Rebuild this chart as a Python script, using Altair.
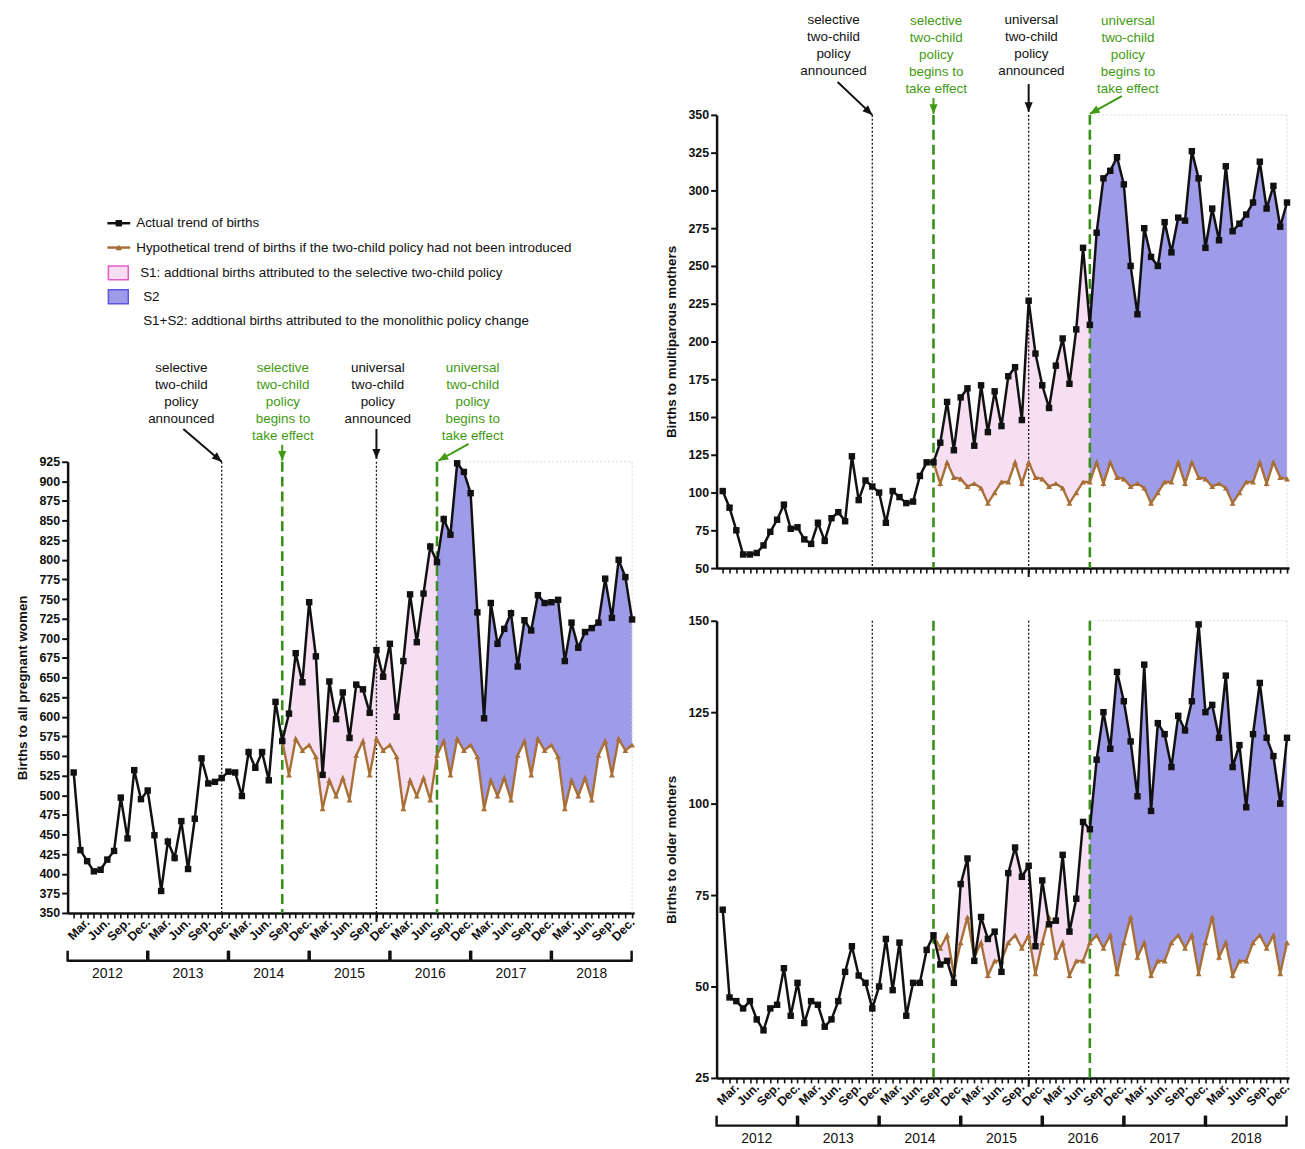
import json
import math
import altair as alt
import pandas as pd

FONT = "Liberation Sans"
BLACK = "#111111"
BROWN = "#a86f36"
GREEN = "#3a8e1a"
GREEN_TXT = "#3f9a12"
PINK_FILL = "#f6dff2"
PINK_STROKE = "#e25cc6"
BLUE_FILL = "#9e9be8"
BLUE_STROKE = "#5c57e0"
FAINT = "#d6d6ee"

# ---------------- data ----------------
months = list(range(84))  # Jan 2012 .. Dec 2018
month_labels = ["", "", "Mar.", "", "", "Jun.", "", "", "Sep.", "", "", "Dec."]
years = ["2012", "2013", "2014", "2015", "2016", "2017", "2018"]
announced_idx = [22, 45]
effect_idx = [31, 54]
hyp_start = 31

all_actual = [529, 430, 416, 403, 405, 418, 429, 497, 445, 532, 495, 506,
              449, 378, 441, 420, 467, 406, 470, 547, 515, 517, 522, 530,
              529, 499, 555, 535, 555, 519, 619, 569, 604, 681, 644, 746,
              677, 526, 645, 597, 631, 573, 641, 635, 605, 685, 651, 693,
              600, 671, 756, 695, 757, 817, 797, 852, 832, 923, 912, 885,
              733, 598, 745, 693, 712, 732, 664, 723, 710, 755, 745, 746,
              749, 671, 720, 688, 708, 713, 720, 776, 726, 800, 778, 724]
all_hyp = [569, 526, 572, 557, 564,
           549, 483, 519, 499, 522, 494, 551, 569, 526, 572, 557, 564,
           549, 483, 519, 499, 522, 494, 551, 569, 526, 572, 557, 564,
           549, 483, 519, 499, 522, 494, 551, 569, 526, 572, 557, 564,
           549, 483, 519, 499, 522, 494, 551, 569, 526, 572, 557, 564]

multi_actual = [101, 90, 75, 59, 59, 60, 65, 74, 82, 92, 76, 77,
                69, 66, 80, 68, 83, 87, 81, 124, 95, 108, 104, 100,
                80, 101, 97, 93, 94, 111, 120, 120, 133, 160, 128, 163,
                169, 131, 171, 140, 167, 144, 177, 183, 148, 227, 192, 171,
                156, 184, 202, 172, 208, 262, 211, 272, 308, 313, 322, 304,
                250, 218, 275, 256, 250, 279, 259, 282, 280, 326, 308, 262,
                288, 267, 316, 273, 278, 284, 292, 319, 288, 303, 276, 292]
multi_hyp = [120, 106, 120, 110, 109,
             104, 106, 103, 93, 100, 107, 107, 120, 106, 120, 110, 109,
             104, 106, 103, 93, 100, 107, 107, 120, 106, 120, 110, 109,
             104, 106, 103, 93, 100, 107, 107, 120, 106, 120, 110, 109,
             104, 106, 103, 93, 100, 107, 107, 120, 106, 120, 110, 109]

older_actual = [71, 47, 46, 44, 46, 41, 38, 44, 45, 55, 42, 51,
                40, 46, 45, 39, 41, 46, 54, 61, 53, 51, 44, 50,
                63, 49, 62, 42, 51, 51, 60, 64, 56, 57, 51, 78,
                85, 57, 69, 63, 65, 54, 81, 88, 80, 83, 61, 79,
                67, 68, 86, 65, 74, 95, 93, 112, 125, 115, 136, 128,
                117, 102, 138, 98, 122, 119, 110, 124, 120, 128, 149, 125,
                127, 118, 135, 110, 116, 99, 119, 133, 118, 113, 100, 118]
older_hyp = [64, 60.5, 64, 53.5, 62,
             69, 58, 62, 53, 57, 57, 62, 64, 60.5, 64, 53.5, 62,
             69, 58, 62, 53, 57, 57, 62, 64, 60.5, 64, 53.5, 62,
             69, 58, 62, 53, 57, 57, 62, 64, 60.5, 64, 53.5, 62,
             69, 58, 62, 53, 57, 57, 62, 64, 60.5, 64, 53.5, 62]

legend_labels = ["Actual trend of births",
                 "Hypothetical trend of births if the two-child policy had not been introduced",
                 "S1: addtional births attributed to the selective two-child policy",
                 "S2",
                 "S1+S2: addtional births attributed to the monolithic policy change"]

ann_texts = ["selective\ntwo-child\npolicy\nannounced",
             "selective\ntwo-child\npolicy\nbegins to\ntake effect",
             "universal\ntwo-child\npolicy\nannounced",
             "universal\ntwo-child\npolicy\nbegins to\ntake effect"]
ann_colors = [BLACK, GREEN_TXT, BLACK, GREEN_TXT]

XDOM = [-0.9, 83.3]
XSCALE = alt.Scale(domain=XDOM, nice=False, zero=False)


def xq(field, show_labels=True):
    lab = f"{json.dumps(month_labels)}[datum.value % 12]" if show_labels else "''"
    axis = alt.Axis(values=months, labelExpr=lab, labels=show_labels, labelAngle=315,
                    labelAlign="right", labelBaseline="middle", labelPadding=2,
                    labelFontSize=12.5, labelFontWeight="bold", labelOverlap=False,
                    labelFlush=False, labelBound=False, tickSize=5, tickWidth=1.6,
                    domainWidth=2.5, grid=False, title=None)
    return alt.X(f"{field}:Q", scale=XSCALE, axis=axis)


def yq(field, ydom, title):
    axis = alt.Axis(values=list(range(ydom[0], ydom[1] + 1, 25)), title=title,
                    titleFontSize=13.5, titleFontWeight="bold", titlePadding=10,
                    labelFontSize=12.5, labelFontWeight="bold", labelPadding=2,
                    tickSize=6, tickWidth=2, domainWidth=2.5, grid=False, labelFlush=False)
    return alt.Y(f"{field}:Q", scale=alt.Scale(domain=ydom, nice=False, zero=False), axis=axis)


def panel(actual, hyp, ydom, title, width, height, show_labels):
    df = pd.DataFrame({"m": months, "actual": actual})
    hdf = pd.DataFrame({"m": months[hyp_start:], "hyp": hyp, "actual": actual[hyp_start:]})
    s1 = hdf[(hdf.m >= effect_idx[0]) & (hdf.m <= effect_idx[1])]
    s2 = hdf[hdf.m >= effect_idx[1]]
    X = lambda f: xq(f, show_labels)

    layers = []
    layers.append(alt.Chart(s1).mark_area(color=PINK_FILL, opacity=1).encode(
        x=X("m"), y=yq("actual", ydom, title), y2="hyp:Q"))
    layers.append(alt.Chart(s2).mark_area(color=BLUE_FILL, opacity=1).encode(
        x=X("m"), y=yq("actual", ydom, title), y2="hyp:Q"))
    fr = pd.DataFrame({"a": [effect_idx[1]], "b": [months[-1]]})
    layers.append(alt.Chart(fr).mark_rule(color=FAINT, strokeDash=[2, 2], strokeWidth=1).encode(
        x=X("a"), x2="b:Q", y=alt.value(0)))
    layers.append(alt.Chart(fr).mark_rule(color=FAINT, strokeDash=[2, 2], strokeWidth=1).encode(
        x=X("b"), y=alt.value(0), y2=alt.value(height)))
    ann = pd.DataFrame({"m": announced_idx})
    layers.append(alt.Chart(ann).mark_rule(color=BLACK, strokeDash=[2, 2], strokeWidth=1.3).encode(
        x=X("m"), y=alt.value(0), y2=alt.value(height)))
    layers.append(alt.Chart(ann.iloc[[1]]).mark_rule(color=BLACK, strokeWidth=2).encode(
        x=X("m"), y=alt.value(height), y2=alt.value(height + 9)))
    eff = pd.DataFrame({"m": effect_idx})
    layers.append(alt.Chart(eff).mark_rule(color=GREEN, strokeDash=[10, 5], strokeWidth=2.6).encode(
        x=X("m"), y=alt.value(0), y2=alt.value(height)))
    layers.append(alt.Chart(hdf).mark_line(
        color=BROWN, strokeWidth=2.4,
        point=alt.OverlayMarkDef(shape="triangle-up", filled=True, size=36, color=BROWN)).encode(
        x=X("m"), y=yq("hyp", ydom, title)))
    layers.append(alt.Chart(df).mark_line(
        color=BLACK, strokeWidth=2.5,
        point=alt.OverlayMarkDef(shape="square", filled=True, size=42, color=BLACK)).encode(
        x=X("m"), y=yq("actual", ydom, title)))

    if show_labels:
        starts = [XDOM[0] if k == 0 else 12 * k - 0.92 for k in range(len(years))]
        ends = [12 * k + 10.93 for k in range(len(years))]
        ydf = pd.DataFrame({"year": years, "s": starts, "e": ends,
                            "mid": [(a + b) / 2 for a, b in zip(starts, ends)]})
        cdf = pd.DataFrame({"c": starts + ends})
        layers.append(alt.Chart(ydf).mark_rule(color=BLACK, strokeWidth=2.5).encode(
            x=X("s"), x2="e:Q", y=alt.value(height + 48)))
        layers.append(alt.Chart(cdf).mark_rule(color=BLACK, strokeWidth=2.5).encode(
            x=X("c"), y=alt.value(height + 38), y2=alt.value(height + 49)))
        layers.append(alt.Chart(ydf).mark_text(fontSize=14, font=FONT, color=BLACK, baseline="middle").encode(
            x=X("mid"), y=alt.value(height + 61), text="year:N"))

    return alt.layer(*layers).properties(width=width, height=height)


ARROW = "M0,0L-0.42,-1L0.42,-1Z"


def annot(width, height, items, legend=None):
    ppm = width / (XDOM[1] - XDOM[0])
    ys = alt.Scale(domain=[0, height], reverse=True, nice=False, zero=False)
    xs = XSCALE
    rows = []
    for (label, col, cx, cy, tx, ty, hx, hy) in items:
        ang = math.degrees(math.atan2(-(hx - tx) * ppm, (hy - ty))) % 360
        rows.append({"label": label, "col": col, "cx": cx, "cy": cy,
                     "tx": tx, "ty": ty, "hx": hx, "hy": hy, "ang": ang})
    tdf = pd.DataFrame(rows)
    X = lambda f: alt.X(f"{f}:Q", scale=xs, axis=None)
    Y = lambda f: alt.Y(f"{f}:Q", scale=ys, axis=None)
    layers = [
        alt.Chart(tdf).mark_text(lineBreak="\n", align="center", baseline="top", fontSize=13.5,
                                 lineHeight=17, font=FONT).encode(
            x=X("cx"), y=Y("cy"), text="label:N", color=alt.Color("col:N", scale=None)),
        alt.Chart(tdf).mark_rule(strokeWidth=2).encode(
            x=X("tx"), x2="hx:Q", y=Y("ty"), y2="hy:Q", color=alt.Color("col:N", scale=None)),
        alt.Chart(tdf).mark_point(shape=ARROW, filled=True, size=380, opacity=1, strokeWidth=0).encode(
            x=X("hx"), y=Y("hy"), angle=alt.Angle("ang:Q", scale=None),
            color=alt.Color("col:N", scale=None)),
    ]
    if legend is not None:
        px = lambda p: XDOM[0] + p / ppm
        ly = [213, 237.5, 263, 287, 311]
        ltx = [69, 69, 73, 76, 76]
        ldf = pd.DataFrame({"t": legend_labels, "y": ly, "x": [px(v) for v in ltx]})
        layers.append(alt.Chart(ldf).mark_text(align="left", baseline="middle", fontSize=13.5,
                                               font=FONT, color=BLACK).encode(
            x=X("x"), y=Y("y"), text="t:N"))
        sdf = pd.DataFrame({"x1": [px(40), px(40)], "x2": [px(63), px(63)],
                            "xm": [px(51.5), px(51.5)], "y": ly[:2],
                            "col": [BLACK, BROWN], "shape": ["square", "triangle-up"]})
        layers.append(alt.Chart(sdf).mark_rule(strokeWidth=2.5).encode(
            x=X("x1"), x2="x2:Q", y=Y("y"), color=alt.Color("col:N", scale=None)))
        layers.append(alt.Chart(sdf).mark_point(filled=True, size=42, opacity=1).encode(
            x=X("xm"), y=Y("y"), color=alt.Color("col:N", scale=None),
            shape=alt.Shape("shape:N", scale=None)))
        bdf = pd.DataFrame({"x1": [px(41), px(41)], "x2": [px(61), px(61)],
                            "y1": [ly[2] - 7, ly[3] - 7], "y2": [ly[2] + 7, ly[3] + 7],
                            "fill": [PINK_FILL, BLUE_FILL], "stroke": [PINK_STROKE, BLUE_STROKE]})
        layers.append(alt.Chart(bdf).mark_rect(strokeWidth=1.5).encode(
            x=X("x1"), x2="x2:Q", y=Y("y1"), y2="y2:Q",
            fill=alt.Fill("fill:N", scale=None), stroke=alt.Stroke("stroke:N", scale=None)))
    return alt.layer(*layers).properties(width=width, height=height)


LW, LH = 570, 454
RW = 576
TH, BH = 456, 460
GAP = 53

left_items = [
    (ann_texts[0], ann_colors[0], 16.0, 352, 16.3, 420, 22, 453),
    (ann_texts[1], ann_colors[1], 31.1, 352, 31, 436, 31, 452),
    (ann_texts[2], ann_colors[2], 45.2, 352, 45, 420, 45, 450),
    (ann_texts[3], ann_colors[3], 59.3, 352, 58.7, 435, 54.2, 452),
]
# right annotation strip is GAP px shorter than the space above the top plot;
# its marks run past its own lower edge down to the plot top.
right_items = [
    (ann_texts[0], ann_colors[0], 16.3, 2, 16.9, 71, 22, 104),
    (ann_texts[1], ann_colors[1], 31.4, 3, 31, 87, 31, 103),
    (ann_texts[2], ann_colors[2], 45.4, 2, 45, 73, 45, 101),
    (ann_texts[3], ann_colors[3], 59.6, 3, 58.7, 85, 54, 103),
]

left_col = alt.vconcat(
    annot(LW, 453, left_items, legend=True),
    panel(all_actual, all_hyp, [350, 925], "Births to all pregnant women", LW, LH, True),
    spacing=0, bounds="flush")

right_col = alt.vconcat(
    annot(RW, 104 - GAP, right_items),
    panel(multi_actual, multi_hyp, [50, 350], "Births to multiparous mothers", RW, TH, False),
    panel(older_actual, older_hyp, [25, 150], "Births to older mothers", RW, BH, True),
    spacing=GAP, bounds="flush")

chart = alt.hconcat(left_col, right_col, spacing=27).properties(
    padding={"left": 7, "top": 0, "right": 5, "bottom": 5}
).configure(font=FONT).configure_view(stroke=None).configure_axis(
    domainColor=BLACK, tickColor=BLACK, labelColor=BLACK, titleColor=BLACK,
    labelFont=FONT, titleFont=FONT)

chart.save("out.html", embed_options={"renderer": "svg", "actions": False})
